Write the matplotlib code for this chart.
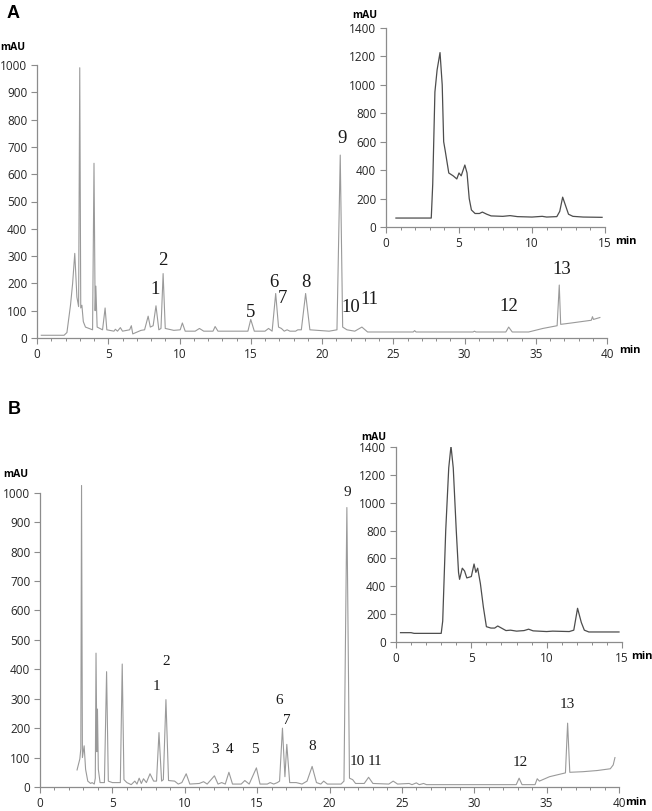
import matplotlib.pyplot as plt
from matplotlib.ticker import MultipleLocator

# ---- panel A, main chromatogram (min, mAU) ----
a_time = [0.3, 1.9, 2.1, 2.35, 2.5, 2.65, 2.8, 2.92, 3.0, 3.07, 3.15, 3.25, 3.4, 3.9,
          4.0, 4.08, 4.13, 4.22, 4.6, 4.78, 4.9, 5.4, 5.5, 5.65, 5.85, 6.0, 6.5, 6.62,
          6.72, 7.3, 7.55, 7.8, 7.95, 8.15, 8.35, 8.55, 8.7, 8.85, 9.0, 9.6, 10.05,
          10.2, 10.4, 11.1, 11.4, 11.7, 12.35, 12.5, 12.7, 14.8, 15.0, 15.25, 16.0,
          16.25, 16.5, 16.75, 16.95, 17.15, 17.35, 17.55, 17.75, 18.15, 18.3, 18.55,
          18.85, 19.15, 20.5, 21.05, 21.28, 21.45, 21.75, 22.3, 22.8, 23.2, 26.4, 26.5,
          26.6, 30.6, 30.7, 30.8, 32.9, 33.1, 33.35, 34.5, 35.5, 36.5, 36.65, 36.75,
          37.5, 38.9, 38.98, 39.05, 39.5]
a_signal = [10, 10, 20, 120, 200, 310, 150, 115, 990, 110, 120, 60, 40, 30,
            640, 100, 190, 40, 30, 110, 30, 25, 32, 25, 38, 25, 30, 45,
            15, 28, 30, 80, 40, 45, 118, 30, 35, 236, 35, 28, 30,
            55, 25, 25, 35, 25, 25, 42, 25, 25, 68, 25, 25,
            35, 25, 163, 40, 35, 25, 30, 25, 25, 30, 30,
            163, 30, 25, 30, 670, 40, 30, 25, 40, 22, 22, 27,
            22, 22, 25, 22, 22, 40, 22, 22, 35, 45, 194, 50,
            55, 65, 78, 68, 75]

# ---- panel A, inset ----
ai_time = [0.68, 3.1, 3.2, 3.35, 3.5, 3.7, 3.85, 3.95, 4.05, 4.3, 4.6, 4.85, 5.0, 5.15,
           5.4, 5.55, 5.7, 5.85, 6.1, 6.4, 6.6, 6.9, 7.2, 8.0, 8.5, 9.0, 10.0, 10.7,
           11.0, 11.7, 11.9, 12.1, 12.3, 12.5, 12.8, 13.5, 14.8]
ai_signal = [63, 63, 300, 950, 1105, 1227, 1000, 600, 540, 380, 360, 338, 380, 360,
             436, 380, 200, 120, 95, 95, 105, 90, 78, 75, 80, 73, 70, 75,
             70, 73, 110, 210, 150, 90, 75, 70, 68]

# ---- panel B, main chromatogram ----
b_time = [2.56, 2.75, 2.82, 2.87, 2.93, 3.05, 3.15, 3.3, 3.5, 3.6, 3.75, 3.82, 3.87,
          3.93, 3.97, 4.03, 4.15, 4.45, 4.6, 4.72, 5.0, 5.55, 5.68, 5.8, 6.0, 6.3,
          6.55, 6.7, 6.85, 7.0, 7.15, 7.35, 7.6, 7.85, 8.05, 8.22, 8.4, 8.52, 8.7,
          8.88, 9.3, 9.55, 9.8, 10.1, 10.35, 11.0, 11.3, 11.55, 12.05, 12.3, 12.55,
          12.8, 13.05, 13.3, 13.9, 14.15, 14.45, 14.95, 15.2, 15.7, 15.9, 16.15, 16.4,
          16.55, 16.75, 16.92, 17.05, 17.25, 17.7, 18.1, 18.45, 18.8, 19.1, 19.4, 19.6,
          19.85, 20.8, 21.0, 21.2, 21.38, 21.6, 21.8, 22.4, 22.7, 23.0, 24.1, 24.4,
          24.7, 25.5, 25.7, 26.0, 26.2, 26.5, 26.7, 30.0, 32.9, 33.1, 33.3, 34.2,
          34.35, 34.5, 35.2, 36.3, 36.45, 36.6, 37.5, 38.5, 39.4, 39.6, 39.72]
b_signal = [58, 95, 130, 1025, 100, 140, 60, 20, 12, 15, 10, 30, 455,
            120, 265, 60, 15, 15, 392, 20, 15, 15, 418, 25, 15, 8,
            20, 10, 30, 12, 28, 15, 45, 20, 20, 185, 20, 25, 297,
            22, 20, 10, 15, 45, 10, 12, 18, 10, 38, 10, 15,
            10, 50, 10, 10, 22, 10, 65, 10, 10, 15, 10, 15,
            20, 200, 35, 145, 15, 15, 10, 20, 70, 15, 10, 20,
            10, 10, 20, 950, 30, 25, 12, 12, 33, 12, 10, 20,
            10, 12, 8, 14, 8, 12, 8, 8, 8, 30, 8, 8,
            28, 20, 35, 48, 217, 50, 52, 56, 62, 75, 100]

# ---- panel B, inset ----
bi_time = [0.3, 1.0, 1.2, 3.0, 3.1, 3.3, 3.5, 3.65, 3.8, 4.0, 4.15, 4.22, 4.4, 4.55,
           4.7, 5.0, 5.18, 5.3, 5.42, 5.6, 5.8, 6.0, 6.3, 6.55, 6.75, 7.0, 7.3, 7.6,
           8.0, 8.5, 8.8, 9.1, 10.0, 10.4, 11.5, 11.8, 12.05, 12.3, 12.5, 12.8, 14.8]
bi_signal = [67, 67, 62, 62, 150, 800, 1250, 1407, 1250, 800, 500, 450, 530, 510,
             460, 470, 560, 500, 530, 420, 250, 110, 100, 100, 115, 100, 82, 85,
             78, 82, 92, 80, 75, 78, 75, 85, 242, 140, 85, 72, 72]

# peak labels: (text, time, mAU)
a_labels = [("1", 8.28, 176), ("2", 8.85, 285), ("5", 15.0, 95), ("6", 16.6, 205),
            ("7", 17.25, 146), ("8", 18.9, 205), ("9", 21.4, 732), ("10", 22.0, 112),
            ("11", 23.3, 140), ("12", 33.1, 115), ("13", 36.8, 252)]
b_labels = [("1", 8.08, 343), ("2", 8.7, 428), ("3", 12.1, 126), ("4", 13.1, 126),
            ("5", 14.85, 126), ("6", 16.5, 293), ("7", 17.08, 225), ("8", 18.8, 136),
            ("9", 21.2, 1000), ("10", 21.9, 88), ("11", 23.15, 88), ("12", 33.16, 82),
            ("13", 36.4, 282)]

W, H = 652, 811
TICK_FONT = "Open Sans"


def px_rect(left, right, bottom, top):
    return [left / W, 1 - bottom / H, (right - left) / W, (bottom - top) / H]


def style_axis(ax, xmax, ystep, ymax_tick, minor=1):
    for s in ("top", "right"):
        ax.spines[s].set_visible(False)
    for s in ("left", "bottom"):
        ax.spines[s].set_color("#8c8c8c")
        ax.spines[s].set_linewidth(0.9)
    ax.spines["left"].set_bounds(0, ymax_tick)
    ax.set_xlim(0, xmax)
    ax.xaxis.set_major_locator(MultipleLocator(5))
    ax.xaxis.set_minor_locator(MultipleLocator(minor))
    ax.set_yticks(range(0, ymax_tick + 1, ystep))
    ax.tick_params(axis="both", which="major", direction="out", length=4, width=0.8,
                   color="#8c8c8c", labelsize=8.5, labelcolor="#262626", pad=3)
    ax.tick_params(axis="x", which="minor", direction="out", length=2.5, width=0.7,
                   color="#8c8c8c")
    for lab in ax.get_xticklabels() + ax.get_yticklabels():
        lab.set_fontfamily(TICK_FONT)
    ax.patch.set_alpha(0)


fig = plt.figure(figsize=(W / 100, H / 100), dpi=100)

# panel A main
ax_a = fig.add_axes(px_rect(37, 607, 338, 65))
ax_a.plot(a_time, a_signal, color="#9a9a9a", lw=0.8)
ax_a.set_ylim(0, 1000)
style_axis(ax_a, 40, 100, 1000)
for txt, t, v in a_labels:
    ax_a.text(t, v, txt, ha="center", va="center", fontsize=13.5,
              family="Liberation Serif", color="#1a1a1a")
ax_a.text(41.6, -46, "min", ha="center", va="center", fontsize=8, fontweight="bold",
          family=TICK_FONT, clip_on=False)

# panel A inset
ax_ai = fig.add_axes(px_rect(386, 605, 227, 28))
ax_ai.plot(ai_time, ai_signal, color="#4d4d4d", lw=0.9)
ax_ai.set_ylim(0, 1400)
style_axis(ax_ai, 15, 200, 1400)
ax_ai.text(16.4, -103, "min", ha="center", va="center", fontsize=8, fontweight="bold",
           family=TICK_FONT, clip_on=False)

# panel B main
ax_b = fig.add_axes(px_rect(40, 619, 787, 484))
ax_b.plot(b_time, b_signal, color="#9a9a9a", lw=0.8)
ax_b.set_ylim(0, 1030)
style_axis(ax_b, 40, 100, 1000)
for txt, t, v in b_labels:
    ax_b.text(t, v, txt, ha="center", va="center", fontsize=11,
              family="Liberation Serif", color="#1a1a1a")
ax_b.text(41.2, -54, "min", ha="center", va="center", fontsize=8, fontweight="bold",
          family=TICK_FONT, clip_on=False)

# panel B inset
ax_bi = fig.add_axes(px_rect(396, 622, 642, 447))
ax_bi.plot(bi_time, bi_signal, color="#4d4d4d", lw=0.9)
ax_bi.set_ylim(0, 1400)
style_axis(ax_bi, 15, 200, 1400)
ax_bi.text(16.3, -105, "min", ha="center", va="center", fontsize=8, fontweight="bold",
           family=TICK_FONT, clip_on=False)

# unit labels and panel letters
for x, y in [(13, 47), (365, 15), (16, 474), (374, 437)]:
    fig.text(x / W, 1 - y / H, "mAU", ha="center", va="center", fontsize=7.5,
             fontweight="bold", family=TICK_FONT)
fig.text(13 / W, 1 - 13 / H, "A", ha="center", va="center", fontsize=13,
         fontweight="bold", family="Liberation Sans")
fig.text(14 / W, 1 - 410 / H, "B", ha="center", va="center", fontsize=13,
         fontweight="bold", family="Liberation Sans")

fig.savefig("out.png", dpi=100)
